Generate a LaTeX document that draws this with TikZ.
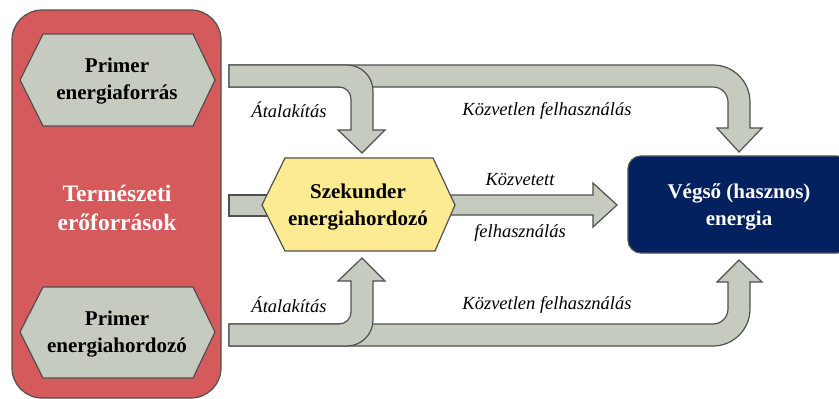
\documentclass[tikz,border=0pt]{standalone}
\usepackage{fontspec}
\setmainfont{Liberation Serif}
\definecolor{redbox}{HTML}{D55A5B}
\definecolor{grayfill}{HTML}{C6CBC0}
\definecolor{yellowfill}{HTML}{FDEB93}
\definecolor{navy}{HTML}{03205F}
\definecolor{edge}{HTML}{505050}
\tikzset{
  band/.style={fill=grayfill, draw=edge, line width=1.2pt, line join=miter},
  shapebox/.style={draw=edge, line width=1.2pt},
  boldtext/.style={align=center, font=\fontsize{21}{27}\selectfont\bfseries, inner sep=0pt},
  whitetext/.style={align=center, text=white, font=\fontsize{23.5}{29}\selectfont\bfseries, inner sep=0pt},
  lbl/.style={font=\fontsize{18.5}{22}\selectfont\itshape, inner sep=0pt}
}
\begin{document}
\begin{tikzpicture}[x=1pt,y=-1pt]
\clip (0,0) rectangle (839,399);
\fill[white] (0,0) rectangle (839,399);
% natural resources box
\draw[shapebox, fill=redbox, rounded corners=30] (12,10) rectangle (221,398);
% primary hexagons
\draw[shapebox, fill=grayfill] (20,80) -- (43,34) -- (193,34) -- (215,80) -- (193,126) -- (43,126) -- cycle;
\draw[shapebox, fill=grayfill] (20,332) -- (43,287) -- (193,287) -- (215,332) -- (193,378) -- (43,378) -- cycle;
\node[boldtext] (p1) at (117,81) {Primer\\energiaforrás};
\node[boldtext] (p2) at (117,334) {Primer\\energiahordozó};
\node[whitetext] (ter) at (117,208) {Természeti\\erőforrások};
% top long arrow
\draw[band] (229,65) [rounded corners=37] -- (750,65) [sharp corners] -- (750,128) -- (762,128) -- (739,152) -- (717,128) -- (728,128) [rounded corners=15] -- (728,87) [sharp corners] -- (229,87) -- cycle;
% top branch arrow
\draw[band] (229,65) [rounded corners=26] -- (373,65) [sharp corners] -- (373,130) -- (385,130) -- (362,153) -- (338,130) -- (351,130) [rounded corners=12] -- (351,87) [sharp corners] -- (229,87) -- cycle;
% bottom long arrow
\draw[band] (229,346) [rounded corners=37] -- (750,346) [sharp corners] -- (750,282) -- (762,282) -- (739,260) -- (717,282) -- (728,282) [rounded corners=15] -- (728,324) [sharp corners] -- (229,324) -- cycle;
% bottom branch arrow
\draw[band] (229,346) [rounded corners=26] -- (373,346) [sharp corners] -- (373,281) -- (385,281) -- (362,258) -- (338,281) -- (351,281) [rounded corners=12] -- (351,324) [sharp corners] -- (229,324) -- cycle;
% middle stub and arrow
\draw[band] (229,195) -- (280,195) -- (280,216) -- (229,216) -- cycle;
\draw[band] (440,195) -- (593,195) -- (593,183) -- (617,205) -- (593,227) -- (593,215) -- (440,215) -- cycle;
% secondary hexagon
\draw[shapebox, fill=yellowfill] (262,205) -- (285,158) -- (433,158) -- (455,205) -- (435,251) -- (285,251) -- cycle;
\node[boldtext] (sz) at (358,207) {Szekunder\\energiahordozó};
% final energy box
\draw[shapebox, fill=navy, rounded corners=13] (628,156) rectangle (850,253);
\node[boldtext, text=white] (ve) at (739,207) {Végső (hasznos)\\energia};
% labels
\node[lbl] (a1) at (289,110) {Átalakítás};
\node[lbl] (a2) at (289,305) {Átalakítás};
\node[lbl] (k1) at (547,111) {Közvetlen felhasználás};
\node[lbl] (k2) at (547,305) {Közvetlen felhasználás};
\node[lbl] (kv) at (520,180) {Közvetett};
\node[lbl] (fh) at (520,233) {felhasználás};
\end{tikzpicture}
\end{document}
